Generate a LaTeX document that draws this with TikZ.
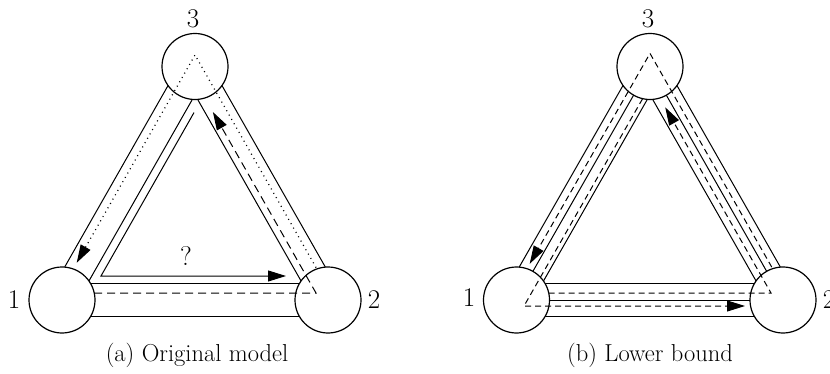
\documentclass[tikz,border=0pt]{standalone}
\usepackage{fontspec}
\usetikzlibrary{calc,arrows.meta,backgrounds}
\newcommand\tubeline[3]{\draw[tube] ($(#1.center)!#3!90:(#2.center)$) -- ($(#2.center)!#3!-90:(#1.center)$);}
\begin{document}
\begin{tikzpicture}[x=1pt,y=-1pt,
  txt/.style={inner sep=0pt,font=\fontsize{27}{32}\selectfont},
  captxt/.style={inner sep=0pt,font=\fontsize{24.5}{29}\selectfont},
  vtx/.style={circle,draw,line width=1.2pt,fill=white,minimum size=66pt,inner sep=0pt},
  tube/.style={line width=1pt},
  arrowed/.style={-{Triangle[length=18pt,width=11pt]}},
  dsha/.style={line width=1pt,dash pattern=on 8pt off 5pt},
  dshb/.style={line width=1pt,dash pattern=on 6pt off 4pt},
  dotp/.style={line width=1.2pt,dash pattern=on 1pt off 4pt},
  solidp/.style={line width=1pt}]
\useasboundingbox (0,0) rectangle (830,374);

% ---------- (a) ----------
\node[vtx] (A1) at (62,300) {};
\node[vtx] (A2) at (328,300) {};
\node[vtx] (A3) at (195,66.5) {};
\begin{pgfonlayer}{background}
  \tubeline{A1}{A3}{14pt}\tubeline{A3}{A1}{14pt}
  \tubeline{A3}{A2}{14pt}\tubeline{A2}{A3}{14pt}
  \tubeline{A2}{A1}{16.5pt}\tubeline{A1}{A2}{16.5pt}
\end{pgfonlayer}
\node[txt] (la1) at (14,300) {1};
\node[txt] (la2) at (374,300) {2};
\node[txt] (la3) at (193,19) {3};
\node[txt] (q) at (186,256) {?};
\node[captxt] (capa) at (197,355) {(a) Original model};

\coordinate (adot0) at (316.1,267.6);
\coordinate (aapex) at (195,55);
\coordinate (adottip) at (76.7,262.8);
\draw[dotp,arrowed] (adot0) -- (aapex) -- (adottip);

\coordinate (adsh0) at (94.2,293);
\coordinate (adshc) at (316,293);
\coordinate (adshtip) at (212.9,112);
\draw[dsha,arrowed] (adsh0) -- (adshc) -- (adshtip);

\coordinate (aq0) at (194,112.6);
\coordinate (aqc) at (101,276);
\coordinate (aqtip) at (286,276);
\draw[solidp,arrowed] (aq0) -- (aqc) -- (aqtip);

% ---------- (b) ----------
\node[vtx] (B1) at (516.5,300) {};
\node[vtx] (B2) at (783,300) {};
\node[vtx] (B3) at (650,66.5) {};
\begin{pgfonlayer}{background}
  \tubeline{B1}{B3}{14pt}\tubeline{B3}{B1}{14pt}\draw[tube] (B1.center) -- (B3.center);
  \tubeline{B3}{B2}{14pt}\tubeline{B2}{B3}{14pt}\draw[tube] (B3.center) -- (B2.center);
  \tubeline{B2}{B1}{16.5pt}\tubeline{B1}{B2}{16.5pt}\draw[tube] (B1.center) -- (B2.center);
\end{pgfonlayer}
\node[txt] (lb1) at (469,298) {1};
\node[txt] (lb2) at (829,300) {2};
\node[txt] (lb3) at (648,19) {3};
\node[captxt] (capb) at (650,355) {(b) Lower bound};

\coordinate (bo0) at (771.8,267.2);
\coordinate (bapex) at (650,53.4);
\coordinate (botip) at (529.7,263.8);
\draw[dshb,arrowed] (bo0) -- (bapex) -- (botip);

\coordinate (bu0) at (548.7,293);
\coordinate (buc) at (771,293);
\coordinate (butip) at (665.2,107.3);
\draw[dshb,arrowed] (bu0) -- (buc) -- (butip);

\coordinate (bl0) at (642.6,98.7);
\coordinate (blc) at (524,306);
\coordinate (bltip) at (745,306);
\draw[dshb,arrowed] (bl0) -- (blc) -- (bltip);
\end{tikzpicture}
\end{document}
